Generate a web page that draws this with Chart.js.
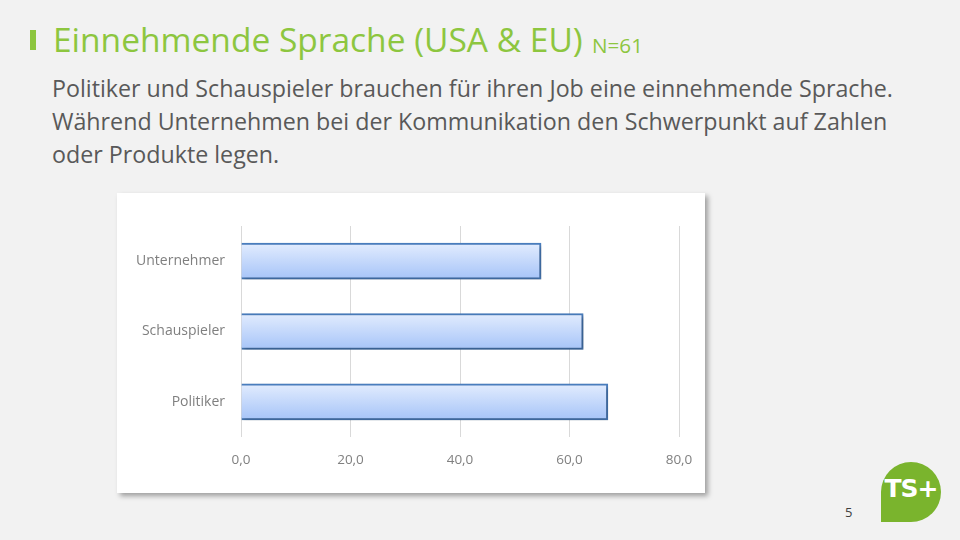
<!DOCTYPE html>
<html>
<head>
<meta charset="utf-8">
<script src="https://cdn.jsdelivr.net/npm/chart.js@4"></script>
<style>
  html, body { margin:0; padding:0; }
  body { width:960px; height:540px; background:#f2f2f2; position:relative; overflow:hidden; font-family: "Open Sans", Lato, sans-serif; }
  .mark { position:absolute; left:30px; top:30px; width:6px; height:20px; background:#8dc63f; }
  .title { position:absolute; top:40px; color:#8dc63f; white-space:nowrap; line-height:1; transform:translateY(-50%); }
  .title2 { position:absolute; top:45px; color:#8dc63f; white-space:nowrap; line-height:1; transform:translateY(-50%); }
  .sub { position:absolute; left:52px; color:#595959; white-space:nowrap; line-height:1; transform:translateY(-50%); }
  .box { position:absolute; left:117px; top:193px; width:588px; height:300px; background:#fff; box-shadow: 3px 3px 5px rgba(0,0,0,0.35); }
  .box canvas { display:block; }
  .page { position:absolute; left:845px; top:503px; font-size:13px; color:#404040; }
  .logo { position:absolute; left:881px; top:462px; width:60px; height:60px; background:#7ab42d; border-radius:30px 30px 30px 0; color:#fff; font-weight:bold; font-size:25px; font-family: "DejaVu Sans", sans-serif; text-align:center; line-height:54px; letter-spacing:-1px; }
</style>
</head>
<body>
<div class="mark"></div>
<div class="title" id="t1" style="left:53px">Einnehmende Sprache (USA &amp; EU)</div>
<div class="title2" id="t2" style="left:592px">N=61</div>
<div class="sub" id="s1" style="top:89px">Politiker und Schauspieler brauchen für ihren Job eine einnehmende Sprache.</div>
<div class="sub" id="s2" style="top:122px">Während Unternehmen bei der Kommunikation den Schwerpunkt auf Zahlen</div>
<div class="sub" id="s3" style="top:155px">oder Produkte legen.</div>
<div class="box"><canvas id="c" width="588" height="300"></canvas></div>
<div class="page">5</div>
<div class="logo">TS+</div>
<script>
const categories = ["Unternehmer", "Schauspieler", "Politiker"];
const values = [54.8, 62.5, 67.0];
const tickValues = [0, 20, 40, 60, 80];

// fit text to the widths seen in the reference
function fit(el, target, weight) {
  el.style.fontWeight = weight;
  el.style.fontSize = '20px';
  const w = el.getBoundingClientRect().width;
  el.style.fontSize = (20 * target / w).toFixed(2) + 'px';
}
fit(document.getElementById('t1'), 530, 400);
fit(document.getElementById('t2'), 51, 400);
const subSize = (() => {
  const el = document.getElementById('s1');
  el.style.fontSize = '20px';
  const w = el.getBoundingClientRect().width;
  return 20 * 841 / w;
})();
['s1','s2','s3'].forEach(id => { document.getElementById(id).style.fontSize = subSize.toFixed(2) + 'px'; });

const shadowPlugin = {
  id: 'barShadow',
  beforeDatasetsDraw(chart) {
    const ctx = chart.ctx;
    ctx.save();
    ctx.shadowColor = 'rgba(0,0,0,0.3)';
    ctx.shadowBlur = 4;
    ctx.shadowOffsetX = 2;
    ctx.shadowOffsetY = 2;
  },
  afterDatasetsDraw(chart) {
    chart.ctx.restore();
  }
};

function barGradient(context) {
  const chart = context.chart;
  const yScale = chart.scales.y;
  if (!yScale || !chart.chartArea) return '#c4d8fb';
  const yc = yScale.getPixelForValue(context.dataIndex);
  const g = chart.ctx.createLinearGradient(0, yc - 18, 0, yc + 18);
  g.addColorStop(0, '#e2ecfe');
  g.addColorStop(1, '#a6c4f8');
  return g;
}

new Chart(document.getElementById('c'), {
  type: 'bar',
  data: {
    labels: categories,
    datasets: [{
      data: values,
      backgroundColor: barGradient,
      borderColor: '#4a7ebf',
      borderWidth: 2,
      borderSkipped: 'start',
      barThickness: 36
    }]
  },
  options: {
    indexAxis: 'y',
    responsive: false,
    animation: false,
    layout: { padding: { top: 33, right: 26, left: 0, bottom: 0 } },
    plugins: { legend: { display: false }, tooltip: { enabled: false } },
    scales: {
      x: {
        min: 0, max: 80,
        afterBuildTicks(scale) { scale.ticks = tickValues.map(v => ({ value: v })); },
        afterFit(scale) { scale.height = 56; scale.paddingLeft = 0; scale.paddingRight = 0; },
        grid: { color: '#d9d9d9', lineWidth: 1, drawTicks: false },
        border: { display: false },
        ticks: {
          padding: 15,
          color: '#808080',
          font: { family: '"Open Sans", Lato, sans-serif', size: 13.5 },
          callback: v => v.toFixed(1).replace('.', ',')
        }
      },
      y: {
        afterFit(scale) { scale.width = 124; scale.paddingTop = 0; scale.paddingBottom = 0; },
        grid: { display: false, drawTicks: false },
        border: { display: false },
        ticks: {
          padding: 16,
          color: '#7f7f7f',
          font: { family: '"Open Sans", Lato, sans-serif', size: 14 }
        }
      }
    }
  },
  plugins: [shadowPlugin]
});
</script>
</body>
</html>
